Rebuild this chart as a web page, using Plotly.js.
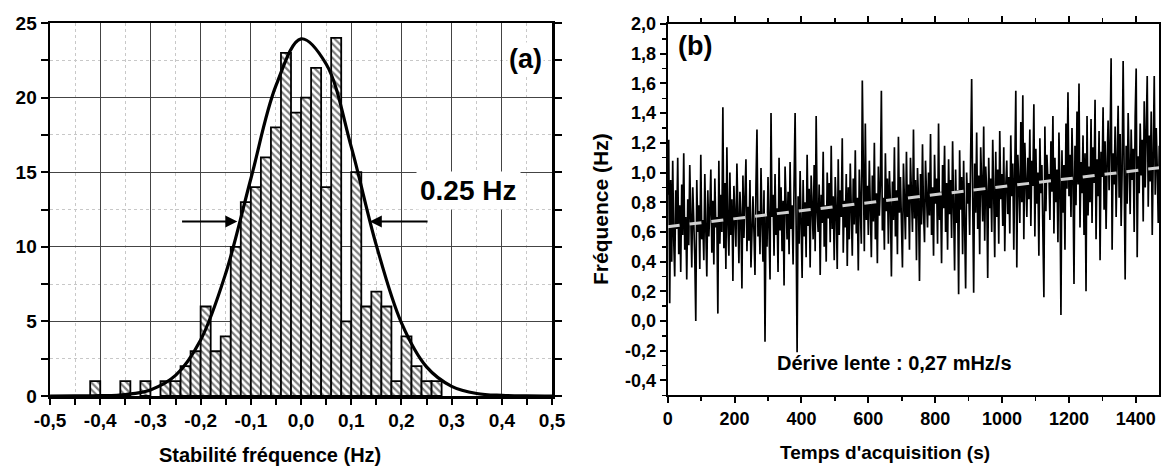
<!DOCTYPE html>
<html>
<head>
<meta charset="utf-8">
<script src="https://cdn.plot.ly/plotly-3.0.1.min.js"></script>
<style>
html,body{margin:0;padding:0;background:#fff;}
#chart{width:1161px;height:466px;}
</style>
</head>
<body>
<div id="chart"></div>
<script>
// ---- Panel (a): histogram of frequency stability ----
const binCenters = [-0.41,-0.35,-0.31,-0.27,-0.25,-0.23,-0.21,-0.19,-0.17,-0.15,-0.13,-0.11,-0.09,-0.07,-0.05,-0.03,-0.01,0.01,0.03,0.05,0.07,0.09,0.11,0.13,0.15,0.17,0.19,0.21,0.23,0.25,0.27];
const binCounts  = [1,1,1,1,1,2,3,6,3,4,10,13,14,16,18,23,19,20,22,14,24,5,15,6,7,6,1,4,2,1,1];
const binWidth = 0.02;

// Gaussian fit curve
const fitCurveX = [-0.5,-0.45,-0.4,-0.35,-0.3,-0.25,-0.2,-0.15,-0.1,-0.05,0,0.05,0.1,0.15,0.2,0.25,0.3,0.35,0.4,0.45,0.5];
const fitCurveY = [0,0.003,0.02,0.1,0.41,1.38,3.76,8.23,14.56,20.8,23.94,22.25,16.7,10.1,4.9,1.95,0.65,0.17,0.04,0.006,0.001];

const histXTicks = [-0.5,-0.4,-0.3,-0.2,-0.1,0,0.1,0.2,0.3,0.4,0.5];
const histXTickLabels = ['-0,5','-0,4','-0,3','-0,2','-0,1','0,0','0,1','0,2','0,3','0,4','0,5'];
const histYTicks = [0,5,10,15,20,25];
const histYTickLabels = ['0','5','10','15','20','25'];

// ---- Panel (b): frequency vs acquisition time ----
const tStep = 3;
const freqValues = [
0.85,1.22,0.12,0.95,0.40,1.08,0.55,0.30,0.88,0.62,1.10,0.45,0.78,0.33,0.92,0.58,1.13,0.48,0.70,0.28,
0.82,0.51,1.05,0.64,0.36,0.90,0.72,0.43,0.00,0.95,0.60,0.78,0.35,1.12,0.55,0.68,0.41,0.99,0.62,0.30,
0.88,0.57,0.74,1.02,0.46,0.81,0.38,0.96,0.63,0.70,0.05,1.08,0.52,0.85,0.60,1.44,0.49,0.93,0.35,1.17,
0.66,0.44,1.00,0.58,0.82,0.27,0.91,0.73,0.50,1.06,0.62,0.39,0.87,0.71,0.22,0.98,0.56,0.80,1.09,0.47,
0.77,0.54,0.95,0.36,0.69,0.84,0.60,0.31,0.92,1.29,0.57,0.74,0.45,1.03,0.66,0.40,0.88,-0.14,0.72,0.50,
0.97,0.63,0.28,1.40,0.70,0.85,0.44,0.99,0.58,0.76,0.33,1.10,0.61,0.90,0.47,0.81,0.24,1.04,0.68,0.55,
0.87,0.45,1.07,0.62,0.78,0.38,0.93,1.40,0.66,-0.21,0.84,0.52,1.01,0.69,0.29,0.95,0.57,0.80,0.43,1.12,
0.64,0.89,0.36,0.98,0.71,0.55,1.05,0.47,1.38,0.73,0.60,0.92,0.31,0.85,0.66,1.14,0.50,0.78,0.40,1.00,
0.69,0.93,0.53,1.18,0.62,0.84,0.41,0.97,0.75,0.35,1.09,0.58,0.88,0.70,1.23,0.46,0.81,0.63,0.99,0.37,
0.90,0.55,1.06,0.72,0.44,0.96,0.65,1.15,0.59,0.83,0.34,1.02,0.74,0.52,1.62,0.80,0.47,1.33,0.68,0.91,
0.58,1.08,0.76,0.43,0.98,0.67,1.20,0.55,0.86,0.39,1.04,0.71,0.92,1.55,0.61,0.83,0.48,1.13,0.74,0.96,
0.52,1.01,0.79,0.30,0.94,0.68,1.17,0.57,0.88,0.45,1.24,0.73,0.97,0.62,0.36,1.06,0.80,0.55,1.14,0.70,
0.92,0.48,1.10,0.77,0.60,1.29,0.69,0.95,0.41,1.03,0.82,0.27,0.99,0.65,1.19,0.74,0.53,1.08,0.86,0.63,
1.00,0.71,1.26,0.58,0.90,0.44,1.12,0.79,0.96,0.52,1.33,0.68,0.87,0.39,1.05,0.76,1.18,0.60,0.93,0.48,
1.09,0.72,0.95,0.56,1.21,0.81,0.34,1.02,0.66,0.88,0.18,1.15,0.75,0.97,0.45,1.08,0.62,0.22,1.00,0.79,
0.93,0.58,1.12,1.63,0.84,0.19,1.06,0.73,1.27,0.62,0.98,0.45,1.17,0.81,0.67,1.31,0.54,1.04,0.88,0.29,
1.10,0.76,0.96,0.60,1.22,0.85,0.43,1.14,0.70,1.02,0.52,1.28,0.82,0.99,0.64,1.17,0.47,0.91,1.08,0.72,
0.97,0.59,1.25,0.84,1.06,0.48,1.19,1.55,0.36,1.12,0.93,0.66,1.34,0.80,1.52,0.55,1.20,0.88,0.70,1.10,
0.82,1.29,0.64,1.08,0.91,1.46,0.57,1.16,0.79,1.00,0.44,1.23,0.86,1.05,0.62,0.16,1.31,0.74,1.12,0.95,
0.99,0.68,1.21,0.87,1.38,0.59,1.10,0.80,1.02,0.53,1.27,0.92,0.04,1.15,0.73,1.05,0.48,1.33,0.89,1.54,
0.84,1.12,0.70,1.30,0.97,0.25,1.18,0.78,1.41,0.92,1.60,0.63,1.07,0.86,1.25,0.58,1.13,0.20,1.38,0.71,
1.04,0.80,1.36,0.66,1.17,0.93,1.49,0.55,1.09,0.84,1.28,0.41,1.14,0.97,1.44,0.75,1.21,0.62,1.06,1.35,
0.88,1.20,1.77,0.48,1.13,0.92,1.31,0.70,1.08,1.45,0.83,1.26,0.64,1.02,1.75,0.91,0.28,1.18,0.79,1.40,
1.03,0.72,1.29,0.95,1.16,0.60,1.38,1.70,0.43,1.11,0.86,1.33,0.98,1.22,0.67,1.48,0.90,1.19,1.65,0.77,
1.25,0.94,1.41,0.58,1.12,1.65,0.85,1.30,1.02,0.66,1.18
];
const timeValues = freqValues.map((_, i) => i * tStep);

// linear drift fit (0,27 mHz/s)
const driftX = [0, 1470];
const driftY = [0.635, 1.032];

const timeTicks = [0,200,400,600,800,1000,1200,1400];
const timeTickLabels = ['0','200','400','600','800','1000','1200','1400'];
const freqTicks = [-0.4,-0.2,0,0.2,0.4,0.6,0.8,1.0,1.2,1.4,1.6,1.8,2.0];
const freqTickLabels = ['-0,4','-0,2','0,0','0,2','0,4','0,6','0,8','1,0','1,2','1,4','1,6','1,8','2,0'];

const F = '"Liberation Sans", Arial, sans-serif';
const tickFontA = {family: F, size: 19, color: '#000', weight: 700};
const tickFontB = {family: F, size: 18, color: '#000', weight: 700};

const traces = [
  {
    type: 'bar', x: binCenters, y: binCounts, width: binWidth,
    xaxis: 'x', yaxis: 'y',
    marker: {color: '#fff', line: {color: '#000', width: 1.8},
             pattern: {shape: '\\', fgcolor: '#000', bgcolor: '#fff', size: 5, solidity: 0.45, fillmode: 'overlay'}},
    hoverinfo: 'skip', showlegend: false
  },
  {
    type: 'scatter', mode: 'lines', x: fitCurveX, y: fitCurveY,
    xaxis: 'x', yaxis: 'y', line: {color: '#000', width: 3.2, shape: 'spline', smoothing: 1},
    hoverinfo: 'skip', showlegend: false
  },
  {
    type: 'scatter', mode: 'lines', x: timeValues, y: freqValues,
    xaxis: 'x2', yaxis: 'y2', line: {color: '#000', width: 1.7},
    hoverinfo: 'skip', showlegend: false
  },
  {
    type: 'scatter', mode: 'lines', x: driftX, y: driftY,
    xaxis: 'x2', yaxis: 'y2', line: {color: '#d0d0d0', width: 3, dash: '12px,10px'},
    hoverinfo: 'skip', showlegend: false
  }
];

const layout = {
  width: 1161, height: 466,
  margin: {l: 0, r: 0, t: 0, b: 0, autoexpand: false},
  paper_bgcolor: '#fff', plot_bgcolor: '#fff',
  bargap: 0,
  font: {family: F, color: '#000'},
  xaxis: {
    domain: [0.0431, 0.4755], range: [-0.5, 0.5], anchor: 'y', automargin: false,
    tickmode: 'array', tickvals: histXTicks, ticktext: histXTickLabels, tickangle: 0,
    ticks: 'outside', ticklen: 6, tickwidth: 2, tickcolor: '#000',
    showline: true, linewidth: 2.5, linecolor: '#000', mirror: true,
    showgrid: true, gridcolor: '#444', gridwidth: 1,
    minor: {tickmode: 'linear', tick0: -0.5, dtick: 0.05, ticks: 'outside', ticklen: 6, tickwidth: 2, tickcolor: '#000', showgrid: true, gridcolor: '#c8c8c8', griddash: 'dot', gridwidth: 1},
    zeroline: false, tickfont: tickFontA
  },
  yaxis: {
    domain: [0.1502, 0.9506], range: [0, 25], anchor: 'x', automargin: false,
    tickmode: 'array', tickvals: histYTicks, ticktext: histYTickLabels, tickangle: 0,
    ticks: 'outside', ticklen: 7, tickwidth: 2, tickcolor: '#000',
    showline: true, linewidth: 2.5, linecolor: '#000', mirror: 'ticks',
    showgrid: true, gridcolor: '#444', gridwidth: 1,
    minor: {tickmode: 'linear', tick0: 0, dtick: 2.5, ticks: 'outside', ticklen: 7, tickwidth: 2, tickcolor: '#000', showgrid: true, gridcolor: '#c8c8c8', griddash: 'dot', gridwidth: 1},
    zeroline: false, tickfont: tickFontA
  },
  xaxis2: {
    domain: [0.5751, 0.9985], range: [0, 1470], anchor: 'y2', automargin: false,
    tickmode: 'array', tickvals: timeTicks, ticktext: timeTickLabels, tickangle: 0,
    ticks: 'outside', ticklen: 6, tickwidth: 2, tickcolor: '#000',
    showline: true, linewidth: 2, linecolor: '#000', mirror: 'allticks',
    minor: {tickmode: 'linear', tick0: 0, dtick: 100, ticks: 'outside', ticklen: 4, tickwidth: 1.5, tickcolor: '#000'},
    showgrid: false, zeroline: false, tickfont: tickFontB
  },
  yaxis2: {
    domain: [0.1517, 0.9485], range: [-0.5, 2.0], anchor: 'x2', automargin: false,
    tickmode: 'array', tickvals: freqTicks, ticktext: freqTickLabels, tickangle: 0,
    ticks: 'outside', ticklen: 6, tickwidth: 2, tickcolor: '#000',
    showline: true, linewidth: 2, linecolor: '#000', mirror: 'allticks',
    minor: {tickmode: 'linear', tick0: -0.5, dtick: 0.1, ticks: 'outside', ticklen: 4, tickwidth: 1.5, tickcolor: '#000'},
    showgrid: false, zeroline: false, tickfont: tickFontB
  },
  annotations: [
    {xref: 'x', yref: 'y', x: -0.127, y: 11.7, ax: -0.24, ay: 11.7, axref: 'x', ayref: 'y',
     text: '', showarrow: true, arrowhead: 2, arrowsize: 1.2, arrowwidth: 2, arrowcolor: '#000'},
    {xref: 'x', yref: 'y', x: 0.137, y: 11.7, ax: 0.255, ay: 11.7, axref: 'x', ayref: 'y',
     text: '', showarrow: true, arrowhead: 2, arrowsize: 1.2, arrowwidth: 2, arrowcolor: '#000'},
    {xref: 'x', yref: 'y', x: 0.334, y: 13.8, text: '<b>0.25 Hz</b>', showarrow: false,
     bgcolor: '#fff', borderpad: 3, font: {family: F, size: 28, color: '#000'}},
    {xref: 'x', yref: 'y', x: 0.448, y: 22.6, text: '<b>(a)</b>', showarrow: false,
     bgcolor: '#fff', font: {family: F, size: 27, color: '#000'}},
    {xref: 'x2', yref: 'y2', x: 82, y: 1.85, text: '<b>(b)</b>', showarrow: false,
     font: {family: F, size: 27, color: '#000'}},
    {xref: 'x2', yref: 'y2', x: 678, y: -0.28, text: '<b>Dérive lente : 0,27 mHz/s</b>', showarrow: false,
     font: {family: F, size: 20, color: '#000'}},
    // axis titles
    {xref: 'paper', yref: 'paper', x: 270/1161, y: 1 - 455/466, xanchor: 'center', yanchor: 'middle',
     text: '<b>Stabilité fréquence (Hz)</b>', showarrow: false, font: {family: F, size: 20, color: '#000'}},
    {xref: 'paper', yref: 'paper', x: 885/1161, y: 1 - 452/466, xanchor: 'center', yanchor: 'middle',
     text: "<b>Temps d'acquisition (s)</b>", showarrow: false, font: {family: F, size: 19, color: '#000'}},
    {xref: 'paper', yref: 'paper', x: 600/1161, y: 1 - 209/466, xanchor: 'center', yanchor: 'middle',
     text: '<b>Fréquence (Hz)</b>', showarrow: false, textangle: -90, font: {family: F, size: 21, color: '#000'}}
  ]
};

Plotly.newPlot('chart', traces, layout, {staticPlot: true, displayModeBar: false});
</script>
</body>
</html>
